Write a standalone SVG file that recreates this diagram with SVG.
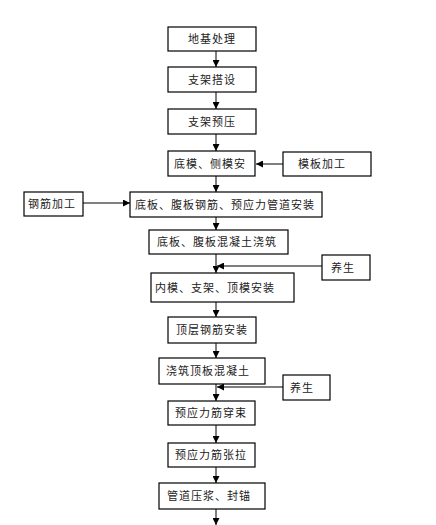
<svg xmlns="http://www.w3.org/2000/svg" width="436" height="525" viewBox="0 0 436 525">
<style>
.b{fill:#fff;stroke:#000;stroke-width:1.2}
.t{font-family:"Noto Sans CJK SC","Liberation Sans",sans-serif;font-size:11px;fill:#222;text-anchor:middle;letter-spacing:1px}
.c{stroke:#000;stroke-width:1;fill:none}
.g{stroke:#555;stroke-width:1.5;fill:none}
</style>
<defs>
<marker id="a" viewBox="0 0 10 10" refX="10" refY="5" markerWidth="7" markerHeight="7" markerUnits="userSpaceOnUse" orient="auto"><path d="M0,0L10,5L0,10z" fill="#000"/></marker>
</defs>
<rect width="436" height="525" fill="#fff"/>
<g id="connectors">
<line class="c" x1="216" y1="51" x2="216" y2="67" marker-end="url(#a)"/>
<line class="c" x1="216" y1="92" x2="216" y2="109" marker-end="url(#a)"/>
<line class="c" x1="216" y1="134" x2="216" y2="151" marker-end="url(#a)"/>
<line class="c" x1="283" y1="164" x2="256" y2="164" marker-end="url(#a)"/>
<line class="c" x1="216" y1="176" x2="216" y2="192" marker-end="url(#a)"/>
<line class="c" x1="83" y1="203" x2="130" y2="203" marker-end="url(#a)"/>
<line class="c" x1="216" y1="217" x2="216" y2="230" marker-end="url(#a)"/>
<line class="c" x1="216" y1="254" x2="216" y2="273" marker-end="url(#a)"/>
<line class="g" x1="322" y1="266" x2="217" y2="266" marker-end="url(#a)"/>
<line class="c" x1="216" y1="302" x2="216" y2="317" marker-end="url(#a)"/>
<line class="c" x1="216" y1="343" x2="216" y2="358" marker-end="url(#a)"/>
<line class="c" x1="216" y1="384" x2="216" y2="401" marker-end="url(#a)"/>
<line class="g" x1="283" y1="387" x2="217" y2="387" marker-end="url(#a)"/>
<line class="c" x1="216" y1="425" x2="216" y2="443" marker-end="url(#a)"/>
<line class="c" x1="216" y1="467" x2="216" y2="483" marker-end="url(#a)"/>
<line class="c" x1="216" y1="509" x2="216" y2="525" marker-end="url(#a)"/>
</g>
<g id="n1"><rect class="b" x="168" y="27" width="88" height="24"/><text class="t" x="212" y="43">地基处理</text></g>
<g id="n2"><rect class="b" x="168" y="67" width="88" height="25"/><text class="t" x="212" y="84">支架搭设</text></g>
<g id="n3"><rect class="b" x="168" y="109" width="88" height="25"/><text class="t" x="212" y="126">支架预压</text></g>
<g id="n4"><rect class="b" x="168" y="151" width="87" height="25"/><text class="t" x="210" y="168">底模、侧模安</text></g>
<g id="n5"><rect class="b" x="283" y="152" width="88" height="24"/><text class="t" x="322" y="168">模板加工</text></g>
<g id="n6"><rect class="b" x="24" y="192" width="59" height="24"/><text class="t" x="52" y="208">钢筋加工</text></g>
<g id="n7"><rect class="b" x="130" y="192" width="192" height="25"/><text class="t" x="225" y="209">底板、腹板钢筋、预应力管道安装</text></g>
<g id="n8"><rect class="b" x="149" y="230" width="139" height="24"/><text class="t" x="217" y="246">底板、腹板混凝土浇筑</text></g>
<g id="n9"><rect class="b" x="322" y="255" width="48" height="25"/><text class="t" x="343" y="272">养生</text></g>
<g id="n10"><rect class="b" x="151" y="273" width="143" height="29"/><text class="t" x="215" y="292">内模、支架、顶模安装</text></g>
<g id="n11"><rect class="b" x="168" y="317" width="88" height="26"/><text class="t" x="212" y="334">顶层钢筋安装</text></g>
<g id="n12"><rect class="b" x="159" y="358" width="106" height="26"/><text class="t" x="208" y="375">浇筑顶板混凝土</text></g>
<g id="n13"><rect class="b" x="283" y="375" width="47" height="25"/><text class="t" x="302" y="392">养生</text></g>
<g id="n14"><rect class="b" x="168" y="401" width="87" height="24"/><text class="t" x="211" y="417">预应力筋穿束</text></g>
<g id="n15"><rect class="b" x="168" y="443" width="87" height="24"/><text class="t" x="211" y="459">预应力筋张拉</text></g>
<g id="n16"><rect class="b" x="159" y="483" width="106" height="26"/><text class="t" x="209" y="500">管道压浆、封锚</text></g>
</svg>
